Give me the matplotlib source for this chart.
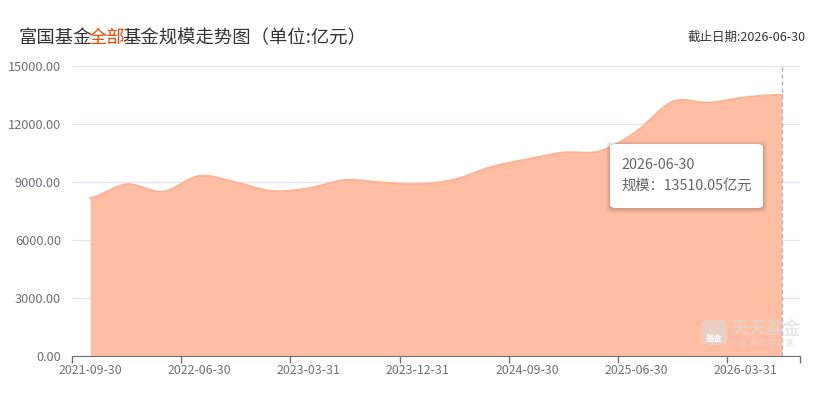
import numpy as np
import matplotlib
matplotlib.use("Agg")
import matplotlib.pyplot as plt
from matplotlib.patches import FancyBboxPatch

plt.rcParams['font.family'] = ['Noto Sans CJK SC', 'DejaVu Sans']

# 季度末日期
dates = ['2021-09-30', '2021-12-31', '2022-03-31', '2022-06-30', '2022-09-30',
         '2022-12-31', '2023-03-31', '2023-06-30', '2023-09-30', '2023-12-31',
         '2024-03-31', '2024-06-30', '2024-09-30', '2024-12-31', '2025-03-31',
         '2025-06-30', '2025-09-30', '2025-12-31', '2026-03-31', '2026-06-30']
# 基金规模（亿元）
scale = [8160, 8880, 8500, 9310, 8980, 8530, 8670, 9100, 8970, 8890,
         9120, 9760, 10170, 10520, 10590, 11600, 13150, 13100, 13380, 13510.05]
yticks = [0, 3000, 6000, 9000, 12000, 15000]


def smooth(x, y, n=20):
    # 画平滑曲线用的 Catmull-Rom 样条
    x = np.asarray(x, float)
    y = np.asarray(y, float)
    xs, ys = [], []
    for i in range(len(x) - 1):
        p0 = y[max(i - 1, 0)]
        p1, p2 = y[i], y[i + 1]
        p3 = y[min(i + 2, len(y) - 1)]
        t = np.linspace(0, 1, n, endpoint=False)
        yy = 0.5 * ((2 * p1) + (-p0 + p2) * t + (2 * p0 - 5 * p1 + 4 * p2 - p3) * t ** 2
                    + (-p0 + 3 * p1 - 3 * p2 + p3) * t ** 3)
        xs.append(x[i] + (x[i + 1] - x[i]) * t)
        ys.append(yy)
    xs.append([x[-1]])
    ys.append([y[-1]])
    return np.concatenate(xs), np.concatenate(ys)


fig = plt.figure(figsize=(8.21, 4.03), dpi=100)
ax = fig.add_axes([72 / 821, 47 / 403, 728 / 821, 290 / 403])

idx = np.arange(len(dates))
sx, sy = smooth(idx, scale)
ax.fill_between(sx, 0, sy, color='#ffbea3', lw=0, zorder=2)
ax.plot(sx, sy, color='#fdb393', lw=1.5, zorder=3)

ax.set_xlim(-0.5, len(dates) - 0.5)
ax.set_ylim(0, 15000)

ax.set_yticks(yticks)
ax.set_yticklabels(['%.2f' % v for v in yticks])
ax.yaxis.grid(True, color='#e0e6f1', lw=1, zorder=0)
ax.set_axisbelow(True)

ax.set_xticks(np.append(np.arange(-0.5, len(dates), 3), len(dates) - 0.5))
ax.set_xticklabels([])
for i in idx[::3]:
    ax.text(i, -0.028, dates[i], transform=ax.get_xaxis_transform(), ha='center', va='top',
            fontsize=8.9, color='#6e7079')

ax.tick_params(axis='x', length=5, color='#6e7079', width=1)
ax.tick_params(axis='y', length=0, labelsize=9.2, labelcolor='#6e7079', pad=8)
for s in ['top', 'right', 'left']:
    ax.spines[s].set_visible(False)
ax.spines['bottom'].set_color('#6e7079')

# 指示线
ax.axvline(idx[-1], color='#a9b3c1', lw=1, ls=(0, (3, 2)), zorder=4)

# 标题（三段拼接，"全部"为红色）
ty = 1 - 43 / 403
t1 = fig.text(18 / 821, ty, '富国基金', fontsize=13.2, color='#333333', va='baseline')
fig.canvas.draw()
r = fig.canvas.get_renderer()
w1 = t1.get_window_extent(r).x1 - 3
t2 = fig.text(w1 / 821, ty, '全部', fontsize=13.2, color='#ff4400', va='baseline')
w2 = t2.get_window_extent(r).x1 - 3
fig.text(w2 / 821, ty, '基金规模走势图（单位:亿元）', fontsize=13.2, color='#333333', va='baseline')
fig.text(806 / 821, 1 - 37 / 403, '截止日期:2026-06-30', fontsize=9.0, color='#333333',
         ha='right', va='center')

# 水印
wm = FancyBboxPatch((702 / 821, 1 - 345 / 403), 25 / 821, 25 / 403,
                    boxstyle='round,pad=0,rounding_size=0.01', transform=fig.transFigure,
                    fc='#d9d9d9', ec='none', alpha=0.6, zorder=5)
fig.add_artist(wm)
fig.text(714.5 / 821, 1 - 338 / 403, '基金', fontsize=6, color='white', ha='center', va='center',
         weight='bold', zorder=5)
fig.text(766 / 821, 1 - 329 / 403, '天天基金', fontsize=12.5, color='#d9d9d9', alpha=0.6,
         ha='center', va='center', weight='bold', zorder=5)
fig.text(766 / 821, 1 - 343 / 403, '投 资 改 写 财 富', fontsize=5.5, color='#d9d9d9', alpha=0.6,
         ha='center', va='center', zorder=5)

# 提示框
for k, a in [(4, 0.04), (2.5, 0.06), (1.2, 0.08)]:
    sh = FancyBboxPatch((610 / 821 - k / 821, 1 - (208 + k + 1) / 403), 153 / 821 + 2 * k / 821,
                        64 / 403 + 2 * k / 403, boxstyle='round,pad=0,rounding_size=0.008',
                        transform=fig.transFigure, fc='black', ec='none', alpha=a, zorder=6)
    fig.add_artist(sh)
box = FancyBboxPatch((610 / 821, 1 - 208 / 403), 153 / 821, 64 / 403,
                     boxstyle='round,pad=0,rounding_size=0.008', transform=fig.transFigure,
                     fc='white', ec='none', zorder=7)
fig.add_artist(box)
fig.text(621 / 821, 1 - 165 / 403, dates[-1], fontsize=10.3, color='#666666', va='center', zorder=8)
fig.text(621 / 821, 1 - 186 / 403, '规模：%.2f亿元' % scale[-1], fontsize=10.3, color='#666666',
         va='center', zorder=8)

fig.savefig('out.png', dpi=100)
